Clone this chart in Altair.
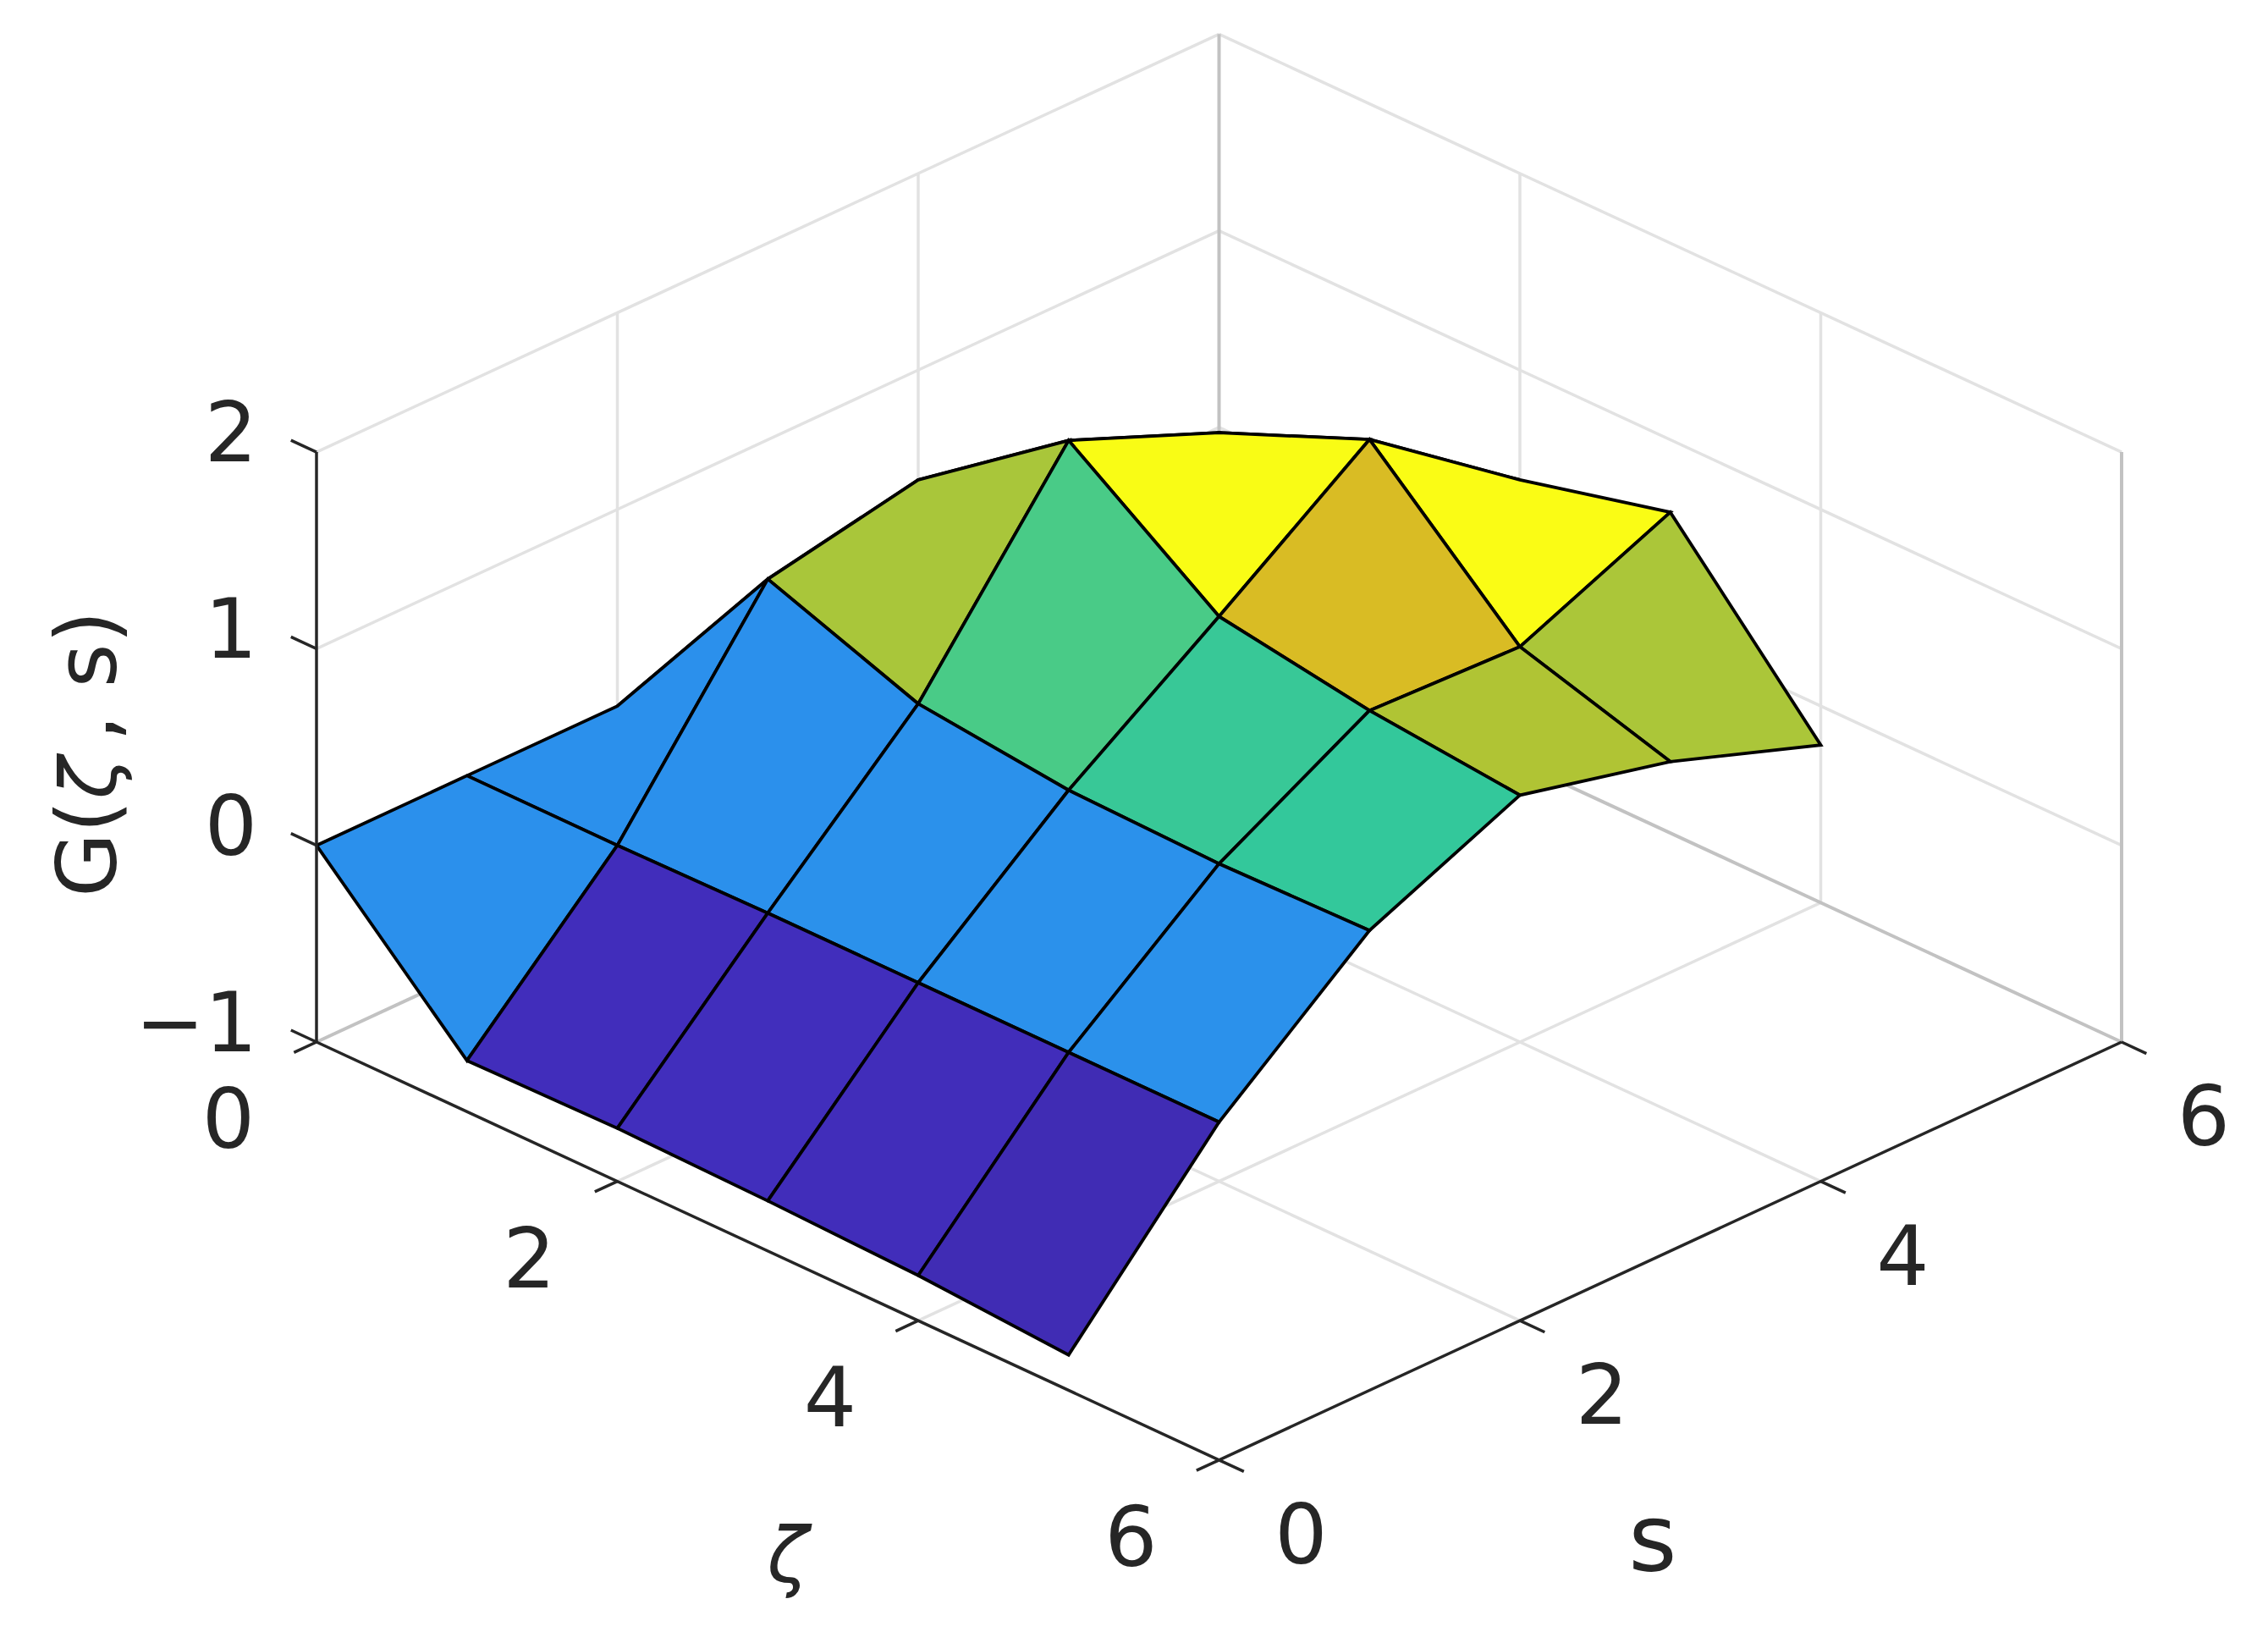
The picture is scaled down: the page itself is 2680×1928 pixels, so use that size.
import altair as alt
import pandas as pd

# G(zeta, s): one row per s, one column per zeta
zeta_nodes = [0, 1, 2, 3, 4, 5]
s_nodes = [0, 1, 2, 3, 4, 5]
G = [
    [0.00, -0.74, -0.73, -0.745, -0.77, -0.82],
    [0.00, 0.00, 0.01, 0.01, 0.01, 0.01],
    [0.00, 1.00, 0.72, 0.635, 0.615, 0.63],
    [0.00, 1.15, 1.705, 1.164, 1.04, 0.964],
    [0.00, 0.90, 1.39, 1.71, 1.01, 0.78],
    [0.00, 0.50, 0.90, 1.15, 1.34, 0.51],
]
color_values = [-0.82, -0.74, 0.0, 0.62, 0.64, 0.72, 1.0, 1.04, 1.164, 1.70]
color_stops = ["#3d29a9", "#412dbb", "#2b90ec", "#33c89a", "#39c896", "#49cb87",
               "#a9c63a", "#b0c434", "#d9bc24", "#f9fb15"]

axis_ticks = [0, 2, 4, 6]
z_ticks = [-1, 0, 1, 2]
z_tick_labels = ["\u22121", "0", "1", "2"]
xy_tick_labels = ["0", "2", "4", "6"]


def project(zeta, s, z):
    """Fixed oblique view of the 3-D box."""
    return 374 + (zeta + s) * 177.75, 1231 + (zeta - s) * 82.3 - (z + 1) * 232.3


def segments(items):
    rows = []
    for i, pts in enumerate(items):
        for k, p in enumerate(pts):
            x, y = project(*p)
            rows.append({"id": i, "k": k, "x": x, "y": y})
    return pd.DataFrame(rows)


ZT, ZB = 2, -1
light = []
for v in [2, 4]:
    light += [[(0, v, ZB), (0, v, ZT)], [(v, 6, ZB), (v, 6, ZT)],
              [(v, 0, ZB), (v, 6, ZB)], [(0, v, ZB), (6, v, ZB)]]
for v in [0, 1, 2]:
    light += [[(0, 0, v), (0, 6, v)], [(0, 6, v), (6, 6, v)]]
dark = [[(0, 6, ZB), (0, 6, ZT)], [(6, 6, ZB), (6, 6, ZT)],
        [(0, 0, ZB), (0, 6, ZB)], [(0, 6, ZB), (6, 6, ZB)]]
front = [[(0, 0, ZB), (6, 0, ZB)], [(6, 0, ZB), (6, 6, ZB)], [(0, 0, ZB), (0, 0, ZT)]]
for v in axis_ticks:
    front += [[(v, 0, ZB), (v, -0.15, ZB)], [(6, v, ZB), (6.165, v, ZB)]]
for v in z_ticks:
    front += [[(0, 0, v), (-0.17, 0, v)]]

# surface faces, painted from the far corner towards the viewer
faces = sorted(
    [(i, j) for j in s_nodes[:-1] for i in zeta_nodes[:-1]],
    key=lambda f: (f[0] - f[1], f[0]),
)
rows = []
for n, (i, j) in enumerate(faces):
    corners = [(i, j), (i, j + 1), (i + 1, j + 1), (i + 1, j), (i, j)]
    for k, (a, b) in enumerate(corners):
        x, y = project(zeta_nodes[a], s_nodes[b], G[b][a])
        rows.append({"face": n, "k": k, "x": x, "y": y, "g": G[j][i]})
surface_df = pd.DataFrame(rows)

X = alt.X("x:Q", scale=alt.Scale(domain=[8, 2672], nice=False, zero=False), axis=None)
Y = alt.Y("y:Q", scale=alt.Scale(domain=[8, 1920], nice=False, zero=False, reverse=True), axis=None)


def lines(df, color, width):
    return alt.Chart(df).mark_line(color=color, strokeWidth=width, clip=False).encode(
        x=X, y=Y, detail="id:N", order="k:Q"
    )


surface = alt.Chart(surface_df).mark_line(
    filled=True, stroke="#000000", strokeWidth=3.8, strokeJoin="miter", clip=False
).encode(
    x=X, y=Y, detail="face:N", order="k:Q",
    fill=alt.Fill("g:Q", legend=None,
                  scale=alt.Scale(domain=color_values, range=color_stops, interpolate="rgb")),
)


def text_layer(labels, px, py, size=98, **kw):
    df = pd.DataFrame({"label": labels, "x": px, "y": py})
    opts = dict(font="DejaVu Sans", fontSize=size, color="#262626", baseline="middle", align="center")
    opts.update(kw)
    return alt.Chart(df).mark_text(**opts).encode(x=X, y=Y, text="label:N")


zeta_pts = [project(v, 0, ZB) for v in axis_ticks]
s_pts = [project(6, v, ZB) for v in axis_ticks]
z_pts = [project(0, 0, v) for v in z_ticks]

chart = alt.layer(
    lines(segments(light), "#e2e2e2", 3.5),
    lines(segments(dark), "#c2c2c2", 4),
    surface,
    lines(segments(front), "#262626", 3.5),
    text_layer(xy_tick_labels, [p[0] - 104 for p in zeta_pts], [p[1] + 96 for p in zeta_pts]),
    text_layer(xy_tick_labels, [p[0] + 97 for p in s_pts], [p[1] + 93 for p in s_pts]),
    text_layer(z_tick_labels, [304 for p in z_pts], [p[1] - 18 for p in z_pts], align="right"),
    text_layer(["\u03b6"], [931], [1842], size=90, fontStyle="italic"),
    text_layer(["s"], [1953], [1822], size=110),
    text_layer(["G("], [137], [1060], angle=270, align="left", baseline="alphabetic"),
    text_layer(["\u03b6"], [137], [944], size=92, angle=270, align="left", baseline="alphabetic", fontStyle="italic"),
    text_layer([", s)"], [137], [876], size=100, angle=270, align="left", baseline="alphabetic"),
).properties(width=2664, height=1912, padding=0, background="#ffffff").configure_view(stroke=None)

chart.save("out.html", embed_options={"renderer": "svg", "actions": False})
